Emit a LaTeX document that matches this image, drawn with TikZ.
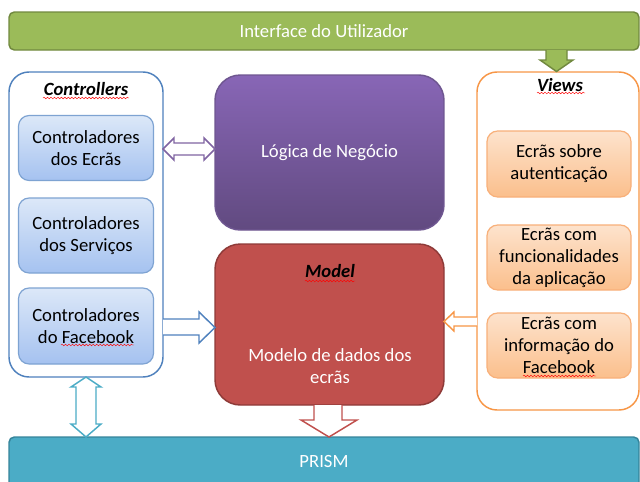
\documentclass[tikz,border=0pt]{standalone}
\usepackage{fontspec}
\setmainfont{Carlito}
\usetikzlibrary{decorations.pathmorphing}
\definecolor{grn}{HTML}{9BBB59}
\definecolor{grnd}{HTML}{71893F}
\definecolor{pur}{HTML}{8064A2}
\definecolor{purt}{HTML}{8866B6}
\definecolor{purb}{HTML}{614A80}
\definecolor{purd}{HTML}{6E5690}
\definecolor{redb}{HTML}{C0504D}
\definecolor{redd}{HTML}{8E3A38}
\definecolor{cya}{HTML}{4BACC6}
\definecolor{cyad}{HTML}{35849A}
\definecolor{blu}{HTML}{4F81BD}
\definecolor{blul}{HTML}{7EA3D2}
\definecolor{blut}{HTML}{DCE8F8}
\definecolor{blub}{HTML}{A5C2F0}
\definecolor{org}{HTML}{F79646}
\definecolor{orgl}{HTML}{F8B07A}
\definecolor{orgt}{HTML}{FDE3CD}
\definecolor{orgb}{HTML}{FBBF8C}
\definecolor{cyarrow}{HTML}{4BACC6}
\begin{document}
\begin{tikzpicture}[x=0.75pt,y=-0.75pt,
  every node/.style={font=\fontsize{14}{16.5}\selectfont, align=center, inner sep=0pt},
  sz/.style 2 args={minimum width=#1*0.75pt, minimum height=#2*0.75pt},
  bar/.style={draw, line width=1.1pt, rounded corners=4pt, text=white},
  panel/.style={draw, line width=1.1pt, fill=white, rounded corners=15pt},
  bluebox/.style={draw=blul, line width=0.9pt, top color=blut, bottom color=blub, rounded corners=8pt, text=black},
  orgbox/.style={draw=orgl, line width=0.9pt, top color=orgt, bottom color=orgb, rounded corners=8pt, text=black},
  bigbox/.style={draw, line width=1.1pt, rounded corners=19pt, text=white},
  title/.style={font=\fontsize{14}{16.5}\selectfont\bfseries\itshape},
  blockarrow/.style={line width=1.1pt, fill=white, line join=miter},
  spell/.style={draw=red, line width=0.35pt, decorate, decoration={snake, segment length=2.6pt, amplitude=0.6pt}}
]
\useasboundingbox (0,0) rectangle (640,482);

% bars
\node[bar, draw=grnd, fill=grn, sz={630}{38}] (ui) at (324,31) {Interface do Utilizador};
\node[bar, draw=cyad, fill=cya, sz={630}{56}] (prism) at (324,465) {};
\node[text=white] (prismt) at (324,462) {PRISM};

% panels
\node[panel, draw=blu, sz={154}{305}] (ctrl) at (86,224.5) {};
\node[title] (ctrlt) at (86,89) {Controllers};
\node[panel, draw=org, sz={162}{338}] (views) at (558,241) {};
\node[title] (viewst) at (560,85) {Views};

% controller boxes
\node[bluebox, sz={135}{65}] (c1) at (86,148) {Controladores\\dos Ecrãs};
\node[bluebox, sz={135}{75}] (c2) at (86,235.5) {Controladores\\dos Serviços};
\node[bluebox, sz={135}{76}] (c3) at (86,326) {Controladores\\do Facebook};

% view boxes
\node[orgbox, sz={144}{66}] (v1) at (559,164) {Ecrãs sobre\\autenticação};
\node[orgbox, sz={144}{65}] (v2) at (559,257.5) {Ecrãs com\\funcionalidades\\da aplicação};
\node[orgbox, sz={144}{65}] (v3) at (559,345.5) {Ecrãs com\\informação do\\Facebook};

% big boxes
\node[bigbox, draw=purd, top color=purt, bottom color=purb, sz={229}{155}] (logic) at (329.5,152.5) {Lógica de Negócio};
\node[bigbox, draw=redd, fill=redb, sz={229}{161}] (model) at (329.5,324.5) {};
\node[title, text=black] (modelt) at (330,271) {Model};
\node[text=white] (modeld) at (330,366) {Modelo de dados dos\\ecrãs};

% spell-check underlines
\draw[spell] (43,98) -- (129,98);
\draw[spell] (537,93) -- (585,93);
\draw[spell] (305,281) -- (355,281);
\draw[spell] (61,345) -- (134,345);
\draw[spell] (523,376) -- (596,376);

% block arrows
% green: ui -> views
\draw[blockarrow, draw=grnd, fill=grn]
  (546,50) -- (546,60) -- (540,60) -- (556.5,71.5) -- (573,60) -- (567,60) -- (567,50);
% purple double: ctrl <-> logic
\draw[blockarrow, draw=pur]
  (163,149) -- (174,138) -- (174,143) -- (204,143) -- (204,138) -- (215,149)
  -- (204,160) -- (204,155) -- (174,155) -- (174,160) -- cycle;
% blue: ctrl -> model
\draw[blockarrow, draw=blu]
  (163,319) -- (199,319) -- (199,312) -- (215,327.5) -- (199,343) -- (199,335) -- (163,335);
% orange: views -> model
\draw[blockarrow, draw=org]
  (477,317) -- (454,317) -- (454,312) -- (444,321.5) -- (454,331) -- (454,326) -- (477,326);
% cyan double: ctrl <-> prism
\draw[blockarrow, draw=cyarrow]
  (86,377) -- (101,387) -- (96,387) -- (96,424) -- (101,424) -- (86,437)
  -- (71,424) -- (76,424) -- (76,387) -- (71,387) -- cycle;
% red: model -> prism
\draw[blockarrow, draw=redb]
  (314,405) -- (314,420) -- (301,420) -- (329,437) -- (357,420) -- (342,420) -- (342,405);
\end{tikzpicture}
\end{document}
